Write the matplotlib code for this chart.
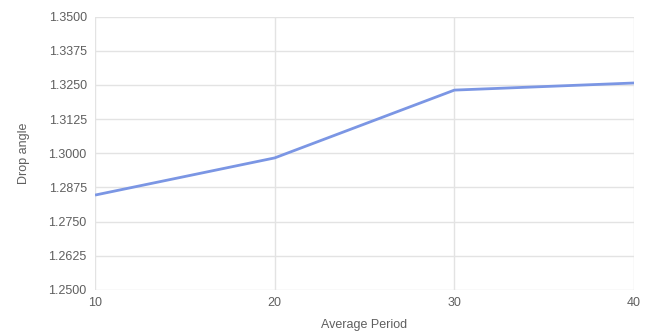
import numpy as np
import matplotlib
matplotlib.use('Agg')
import matplotlib.pyplot as plt

matplotlib.rcParams['font.family'] = 'Liberation Sans'

# data
periods = [10, 20, 30, 40]
drop_angle = [1.2847, 1.2983, 1.3231, 1.3257]
y_ticks = np.arange(1.25, 1.3501, 0.0125)
x_ticks = [10, 20, 30, 40]

fig = plt.figure(figsize=(6.51, 3.31), dpi=100)
ax = fig.add_axes([0.146, 0.124, 0.828, 0.826])

ax.plot(periods, drop_angle, color='#7b96e4', linewidth=2, solid_capstyle='butt')

ax.set_xlim(10, 40)
ax.set_ylim(1.25, 1.35)
ax.set_xticks(x_ticks)
ax.set_yticks(y_ticks)
ax.set_yticklabels(['%.4f' % v for v in y_ticks])
ax.grid(True, color='#e3e3e3', linewidth=1)
ax.set_axisbelow(True)
for s in ax.spines.values():
    s.set_visible(False)
ax.tick_params(length=0, labelsize=9, colors='#5f5f5f')
ax.tick_params(axis='y', pad=6)
ax.tick_params(axis='x', pad=5)

ax.set_xlabel('Average Period', fontsize=9, color='#5f5f5f', labelpad=7)
ax.set_ylabel('Drop angle', fontsize=9, color='#5f5f5f', labelpad=13)

fig.savefig('out.png', dpi=100)
